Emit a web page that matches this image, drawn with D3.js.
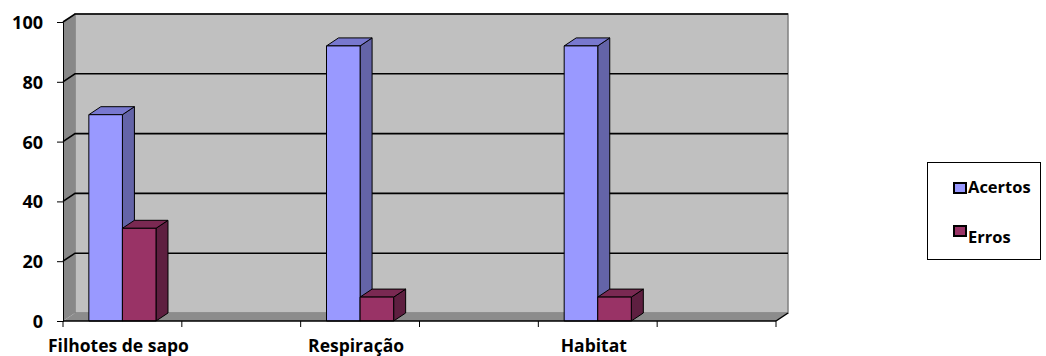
<!DOCTYPE html>
<html><head><meta charset="utf-8">
<script src="https://cdn.jsdelivr.net/npm/d3@7"></script>
<style>body{margin:0;background:#fff}svg{display:block}text{font-family:"Open Sans","Noto Sans",sans-serif;font-weight:700;fill:#000}</style>
</head><body>
<svg id="c" width="1046" height="356"></svg>
<script>
const categories = ["Filhotes de sapo", "", "Respiração", "", "Habitat", ""];
const series = ["Acertos", "Erros"];
const acertos = [69, null, 92, null, 92, null];
const erros = [31, null, 8, null, 8, null];
const yTicks = [0, 20, 40, 60, 80, 100];

const svg = d3.select("#c");
const X0 = 63, X1 = 776, Y0 = 321, Y1 = 22, DX = 12, DY = -8;
const x = d3.scaleBand().domain(d3.range(categories.length)).range([X0, X1]);
const y = d3.scaleLinear().domain([0, 100]).range([Y0, Y1]);
const xs = d3.scaleBand().domain(series).range([0, x.bandwidth()]).paddingOuter(0.77);
const colors = {
  Acertos: {front: "#9999FF", top: "#7878CF", side: "#6464A8"},
  Erros: {front: "#993366", top: "#7A2952", side: "#5E1F40"}
};

// walls
svg.append("polygon").attr("points", [[X0+DX, y(100)+DY],[X1+DX, y(100)+DY],[X1+DX, Y0+DY],[X0+DX, Y0+DY]].join(" "))
  .attr("fill", "#C0C0C0").attr("stroke", "#808080").attr("stroke-width", 1.5);
svg.append("polygon").attr("points", [[X0, y(100)],[X0+DX, y(100)+DY],[X0+DX, Y0+DY],[X0, Y0]].join(" "))
  .attr("fill", "#888888");
svg.append("polygon").attr("points", [[X0, Y0],[X0+DX, Y0+DY],[X1+DX, Y0+DY],[X1, Y0]].join(" "))
  .attr("fill", "#8C8C8C");

// gridlines
yTicks.filter(t => t > 0).forEach(t => {
  svg.append("polyline").attr("points", [[X0, y(t)],[X0+DX, y(t)+DY],[X1+DX, y(t)+DY]].join(" "))
    .attr("fill", "none").attr("stroke", "#000").attr("stroke-width", 1.6);
});

// bars
const data = [];
categories.forEach((c, i) => {
  [acertos[i], erros[i]].forEach((v, k) => { if (v != null) data.push({i, s: series[k], v}); });
});
const g = svg.append("g");
data.forEach(d => {
  const xl = x(d.i) + xs(d.s), xr = xl + xs.bandwidth(), yt = y(d.v), yb = Y0;
  const c = colors[d.s];
  const gg = g.append("g").attr("stroke", "#000").attr("stroke-width", 1).attr("stroke-linejoin", "round");
  gg.append("polygon").attr("points", [[xr, yt],[xr+DX, yt+DY],[xr+DX, yb+DY],[xr, yb]].join(" ")).attr("fill", c.side);
  gg.append("polygon").attr("points", [[xl, yt],[xl+DX, yt+DY],[xr+DX, yt+DY],[xr, yt]].join(" ")).attr("fill", c.top);
  gg.append("rect").attr("x", xl).attr("y", yt).attr("width", xr - xl).attr("height", yb - yt).attr("fill", c.front);
});

// axes
const yAxis = svg.append("g").attr("transform", `translate(${X0},0)`)
  .call(d3.axisLeft(y).tickValues(yTicks).tickSize(6).tickPadding(14));
yAxis.selectAll("text").style("font-size", "18px").attr("dy", "0.36em");
yAxis.selectAll("line,path").attr("stroke", "#000").attr("stroke-width", 1);

const xAxis = svg.append("g").attr("transform", `translate(0,${Y0})`);
xAxis.append("line").attr("x1", X0).attr("x2", X1).attr("y1", 0).attr("y2", 0).attr("stroke", "#000").attr("stroke-width", 1.5);
xAxis.append("line").attr("x1", X1).attr("x2", X1+DX).attr("y1", 0).attr("y2", DY).attr("stroke", "#000").attr("stroke-width", 1.5);
const tickXs = x.domain().map(d => x(d)).concat([X1]);
tickXs.forEach(tx => xAxis.append("line").attr("x1", tx).attr("x2", tx).attr("y1", 0).attr("y2", 6).attr("stroke", "#000"));
categories.forEach((c, i) => {
  if (!c) return;
  xAxis.append("text").attr("x", x(i) + x.bandwidth()/2 - 4).attr("y", 31).attr("text-anchor", "middle").style("font-size", "17.5px").text(c);
});

// legend
const lg = svg.append("g");
lg.append("rect").attr("x", 927.5).attr("y", 162.5).attr("width", 113).attr("height", 97).attr("fill", "#fff").attr("stroke", "#000");
const legY = [{s: "Acertos", sq: 182, ty: 193}, {s: "Erros", sq: 225, ty: 243}];
legY.forEach(l => {
  lg.append("rect").attr("x", 954).attr("y", l.sq + 1).attr("width", 12).attr("height", 10).attr("fill", colors[l.s].front).attr("stroke", "#000").attr("stroke-width", 2);
  lg.append("text").attr("x", 968).attr("y", l.ty).style("font-size", "16.5px").text(l.s);
});
</script>
</body></html>
